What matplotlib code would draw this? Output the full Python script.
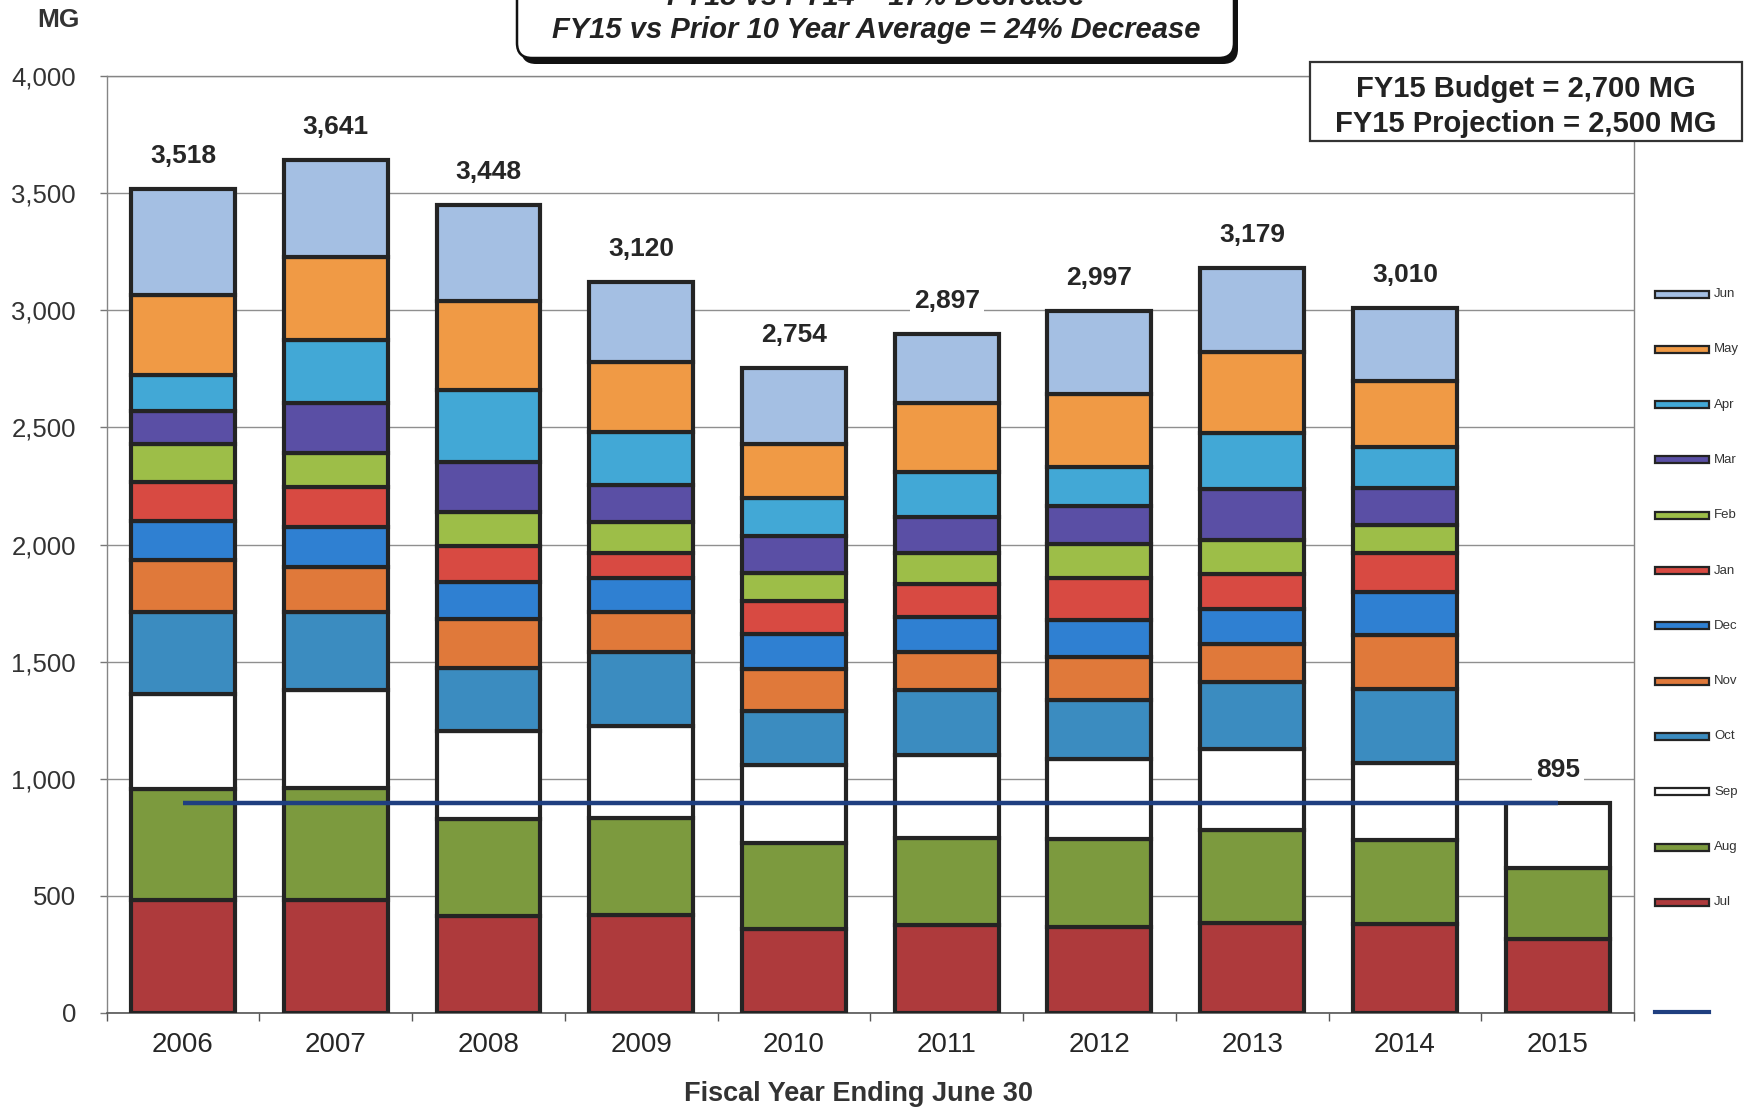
import numpy as np
import matplotlib
matplotlib.use("Agg")
import matplotlib.pyplot as plt
from matplotlib.patches import Rectangle, FancyBboxPatch
from matplotlib.lines import Line2D
from matplotlib.ticker import FixedLocator

plt.rcParams['font.family'] = ['Liberation Sans', 'DejaVu Sans']

years = ['2006', '2007', '2008', '2009', '2010', '2011', '2012', '2013', '2014', '2015']

# Monthly water production (MG) per fiscal year, Jul..Jun; FY15 months not yet reported are 0
jul = [484, 481, 415, 417, 357, 374, 367, 386, 381, 316]
aug = [473, 480, 413, 416, 369, 371, 375, 397, 359, 302]
sep = [403, 417, 375, 393, 332, 356, 344, 346, 329, 277]
oct_ = [352, 332, 271, 313, 232, 277, 250, 285, 314, 0]
nov = [222, 193, 206, 174, 177, 164, 185, 161, 230, 0]
dec = [166, 171, 161, 143, 149, 147, 156, 149, 183, 0]
jan = [165, 173, 154, 109, 144, 142, 179, 150, 169, 0]
feb = [162, 145, 145, 133, 120, 134, 145, 145, 118, 0]
mar = [143, 211, 211, 154, 158, 154, 164, 217, 157, 0]
apr = [155, 271, 309, 230, 162, 192, 165, 242, 178, 0]
may = [340, 353, 381, 299, 230, 293, 312, 342, 282, 0]
jun = [453, 414, 407, 339, 324, 293, 355, 359, 310, 0]

month_names = ['Jul', 'Aug', 'Sep', 'Oct', 'Nov', 'Dec',
               'Jan', 'Feb', 'Mar', 'Apr', 'May', 'Jun']
month_values = [jul, aug, sep, oct_, nov, dec, jan, feb, mar, apr, may, jun]
month_colors = ['#AE3A3C', '#7C9A3E', '#FFFFFF', '#3B8CC0', '#E0793A', '#2F80D2',
                '#D84A42', '#9DBE48', '#5A4FA5', '#42A8D6', '#F09A45', '#A4BFE3']

y_ticks = [0, 500, 1000, 1500, 2000, 2500, 3000, 3500, 4000]
fy15_total_line = 895

title_lines = ['FY15 vs FY14 = 17% Decrease',
               'FY15 vs Prior 10 Year Average = 24% Decrease']
budget_lines = ['FY15 Budget = 2,700 MG', 'FY15 Projection = 2,500 MG']

edge = '#242424'
text_col = '#262626'

fig = plt.figure(figsize=(17.45, 11.10), dpi=100)
ax = fig.add_axes([0.0611, 0.0874, 0.8753, 0.8441])

x = np.arange(len(years))
bottom = np.zeros(len(years))
for vals, col in zip(month_values, month_colors):
    v = np.array(vals, dtype=float)
    mask = v > 0
    ax.bar(x[mask], v[mask], width=0.68, bottom=bottom[mask], color=col,
           edgecolor=edge, linewidth=3.0, zorder=3)
    bottom += v

totals = bottom
for xi, t in zip(x, totals):
    ax.annotate(f"{int(round(t)):,}", (xi, t), xytext=(0, 24),
                textcoords='offset points', ha='center', va='center',
                fontsize=19, fontweight='bold', color=text_col, zorder=5,
                bbox=dict(boxstyle='square,pad=0.15', fc='white', ec='none'))

# FY15 year-to-date reference line
ax.plot([x[0], x[-1]], [fy15_total_line, fy15_total_line], color='#1F3F80',
        linewidth=3.2, zorder=4, solid_capstyle='butt')

ax.set_xlim(-0.5, len(years) - 0.5)
ax.set_ylim(0, 4000)
ax.set_yticks(y_ticks)
ax.set_yticklabels([f"{v:,}" for v in y_ticks], fontsize=18.5, color='#333333')
ax.set_xticks(x)
ax.set_xticklabels(years, fontsize=20, color=text_col)
ax.xaxis.set_minor_locator(FixedLocator(np.arange(-0.5, len(years), 1.0)))
ax.tick_params(axis='x', which='major', length=0, pad=14)
ax.tick_params(axis='x', which='minor', length=6, width=1, color='#555555', direction='out')
ax.tick_params(axis='y', length=5, width=1, color='#777777', direction='out', pad=17)

ax.yaxis.grid(True, color='#8f8f8f', linewidth=1.0)
ax.set_axisbelow(True)
for side in ['left', 'right', 'top']:
    ax.spines[side].set_color('#858585')
    ax.spines[side].set_linewidth(1.0)
ax.spines['bottom'].set_color('#555555')
ax.spines['bottom'].set_linewidth(1.2)

tr = fig.dpi_scale_trans

# Comparison box at the top (rounded, with drop shadow)
shadow = FancyBboxPatch((5.21, 10.46), 7.17, 1.4,
                        boxstyle='round,pad=0,rounding_size=0.15',
                        transform=tr, fc='#111111', ec='none', zorder=10)
box = FancyBboxPatch((5.17, 10.52), 7.17, 1.4,
                     boxstyle='round,pad=0,rounding_size=0.15',
                     transform=tr, fc='white', ec='#111111', lw=1.8, zorder=11)
fig.patches.extend([shadow, box])
fig.text(8.76, 11.13, title_lines[0], transform=tr, ha='center', va='center',
         fontsize=21, fontweight='bold', fontstyle='italic', color='#222222', zorder=12)
fig.text(8.76, 10.80, title_lines[1], transform=tr, ha='center', va='center',
         fontsize=21, fontweight='bold', fontstyle='italic', color='#222222', zorder=12)

# Budget / projection box
bbox_rect = Rectangle((13.10, 9.69), 4.32, 0.79, transform=tr, fc='white',
                      ec='#333333', lw=1.6, zorder=10)
fig.patches.append(bbox_rect)
fig.text(15.26, 10.21, budget_lines[0], transform=tr, ha='center', va='center',
         fontsize=21, fontweight='bold', color='#222222', zorder=12)
fig.text(15.26, 9.86, budget_lines[1], transform=tr, ha='center', va='center',
         fontsize=21, fontweight='bold', color='#222222', zorder=12)

fig.text(0.58, 10.90, 'MG', transform=tr, ha='center', va='center',
         fontsize=19, fontweight='bold', color='#333333')
fig.text(8.59, 0.16, 'Fiscal Year Ending June 30', transform=tr, ha='center',
         va='center', fontsize=19.5, fontweight='bold', color='#333333')

# Legend on the right, Jun at the top down to Jul
leg_top = 11.10 - 2.94
leg_step = 0.553
for k, (name, col) in enumerate(zip(month_names[::-1], month_colors[::-1])):
    yc = leg_top - k * leg_step
    fig.patches.append(Rectangle((16.55, yc - 0.035), 0.54, 0.07, transform=tr,
                                 fc=col, ec=edge, lw=1.6, zorder=10))
    fig.text(17.14, yc, name, transform=tr, ha='left', va='center',
             fontsize=9.5, color='#333333')
fig.lines.append(Line2D([16.55, 17.09], [0.98, 0.98], transform=tr,
                        color='#1F3F80', lw=3))

fig.savefig('out.png', dpi=100, facecolor='white')
